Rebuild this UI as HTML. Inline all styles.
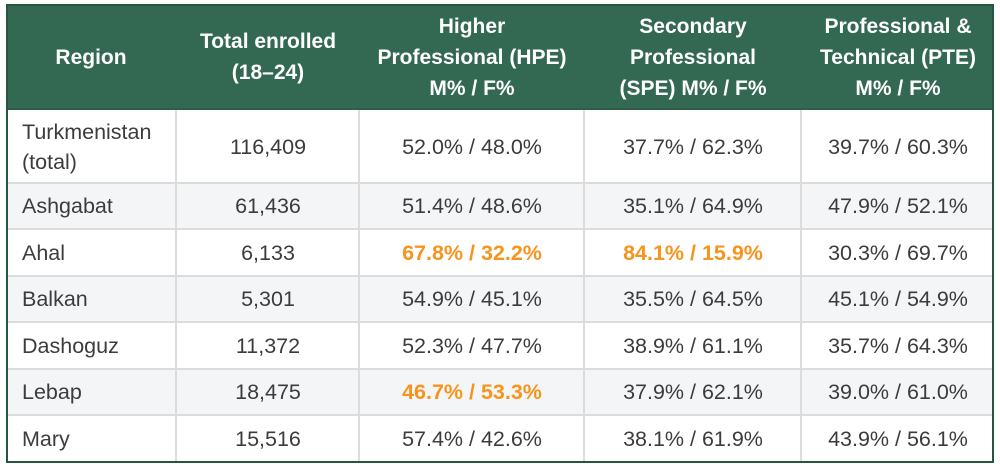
<!DOCTYPE html>
<html>
<head>
<meta charset="utf-8">
<style>
  html,body{margin:0;padding:0;background:#ffffff;}
  body{width:1000px;height:470px;position:relative;overflow:hidden;font-family:"Liberation Sans",Arial,sans-serif;}
  .frame{position:absolute;left:6px;top:4px;width:988px;height:459px;box-sizing:border-box;border:2.5px solid #27563f;background:#fff;}
  .hdr{position:absolute;left:6px;top:4px;width:988px;height:106px;background:#336852;}
  .hline{position:absolute;left:8px;width:984px;height:2px;background:#dcdcdc;}
  .vline{position:absolute;top:110px;width:2px;height:351px;background:#dcdcdc;}
  .gray{position:absolute;left:8px;width:984px;background:#f4f5f7;}
  .c{position:absolute;display:flex;align-items:center;justify-content:center;text-align:center;box-sizing:border-box;}
  .h{color:#ffffff;font-weight:bold;font-size:21px;line-height:31px;}
  .b{color:#3c3c3c;font-size:21.5px;line-height:30px;}
  .l{justify-content:flex-start;text-align:left;padding-left:16px;}
  .o{color:#f7941d;font-weight:bold;}
</style>
</head>
<body>
<div class="frame"></div>
<div class="hdr"></div>
<div class="gray" style="top:184px;height:45px;"></div>
<div class="gray" style="top:277px;height:45px;"></div>
<div class="gray" style="top:370px;height:45px;"></div>

<div class="hline" style="top:182px;"></div>
<div class="hline" style="top:228px;"></div>
<div class="hline" style="top:275px;"></div>
<div class="hline" style="top:321px;"></div>
<div class="hline" style="top:368px;"></div>
<div class="hline" style="top:414px;"></div>

<div class="vline" style="left:175px;"></div>
<div class="vline" style="left:358px;"></div>
<div class="vline" style="left:583px;"></div>
<div class="vline" style="left:800px;"></div>

<div class="hdr" style="background:transparent;height:2px;top:108px;background:#2c5d47;"></div>

<!-- Header -->
<div class="c h" style="left:6px;top:4px;width:170px;height:106px;">Region</div>
<div class="c h" style="left:176px;top:4px;width:184px;height:106px;">Total enrolled<br>(18–24)</div>
<div class="c h" style="left:360px;top:4px;width:224px;height:106px;">Higher<br>Professional (HPE)<br>M% / F%</div>
<div class="c h" style="left:584px;top:4px;width:218px;height:106px;">Secondary<br>Professional<br>(SPE) M% / F%</div>
<div class="c h" style="left:802px;top:4px;width:192px;height:106px;">Professional &amp;<br>Technical (PTE)<br>M% / F%</div>

<!-- Row 1 -->
<div class="c b l" style="left:6px;top:110px;width:170px;height:73px;">Turkmenistan<br>(total)</div>
<div class="c b" style="left:176px;top:110px;width:184px;height:73px;">116,409</div>
<div class="c b" style="left:360px;top:110px;width:224px;height:73px;">52.0% / 48.0%</div>
<div class="c b" style="left:584px;top:110px;width:218px;height:73px;">37.7% / 62.3%</div>
<div class="c b" style="left:802px;top:110px;width:192px;height:73px;">39.7% / 60.3%</div>

<!-- Row 2 -->
<div class="c b l" style="left:6px;top:183px;width:170px;height:46px;">Ashgabat</div>
<div class="c b" style="left:176px;top:183px;width:184px;height:46px;">61,436</div>
<div class="c b" style="left:360px;top:183px;width:224px;height:46px;">51.4% / 48.6%</div>
<div class="c b" style="left:584px;top:183px;width:218px;height:46px;">35.1% / 64.9%</div>
<div class="c b" style="left:802px;top:183px;width:192px;height:46px;">47.9% / 52.1%</div>

<!-- Row 3 -->
<div class="c b l" style="left:6px;top:229px;width:170px;height:47px;">Ahal</div>
<div class="c b" style="left:176px;top:229px;width:184px;height:47px;">6,133</div>
<div class="c b o" style="left:360px;top:229px;width:224px;height:47px;">67.8% / 32.2%</div>
<div class="c b o" style="left:584px;top:229px;width:218px;height:47px;">84.1% / 15.9%</div>
<div class="c b" style="left:802px;top:229px;width:192px;height:47px;">30.3% / 69.7%</div>

<!-- Row 4 -->
<div class="c b l" style="left:6px;top:276px;width:170px;height:46px;">Balkan</div>
<div class="c b" style="left:176px;top:276px;width:184px;height:46px;">5,301</div>
<div class="c b" style="left:360px;top:276px;width:224px;height:46px;">54.9% / 45.1%</div>
<div class="c b" style="left:584px;top:276px;width:218px;height:46px;">35.5% / 64.5%</div>
<div class="c b" style="left:802px;top:276px;width:192px;height:46px;">45.1% / 54.9%</div>

<!-- Row 5 -->
<div class="c b l" style="left:6px;top:322px;width:170px;height:47px;">Dashoguz</div>
<div class="c b" style="left:176px;top:322px;width:184px;height:47px;">11,372</div>
<div class="c b" style="left:360px;top:322px;width:224px;height:47px;">52.3% / 47.7%</div>
<div class="c b" style="left:584px;top:322px;width:218px;height:47px;">38.9% / 61.1%</div>
<div class="c b" style="left:802px;top:322px;width:192px;height:47px;">35.7% / 64.3%</div>

<!-- Row 6 -->
<div class="c b l" style="left:6px;top:369px;width:170px;height:46px;">Lebap</div>
<div class="c b" style="left:176px;top:369px;width:184px;height:46px;">18,475</div>
<div class="c b o" style="left:360px;top:369px;width:224px;height:46px;">46.7% / 53.3%</div>
<div class="c b" style="left:584px;top:369px;width:218px;height:46px;">37.9% / 62.1%</div>
<div class="c b" style="left:802px;top:369px;width:192px;height:46px;">39.0% / 61.0%</div>

<!-- Row 7 -->
<div class="c b l" style="left:6px;top:415px;width:170px;height:47px;">Mary</div>
<div class="c b" style="left:176px;top:415px;width:184px;height:47px;">15,516</div>
<div class="c b" style="left:360px;top:415px;width:224px;height:47px;">57.4% / 42.6%</div>
<div class="c b" style="left:584px;top:415px;width:218px;height:47px;">38.1% / 61.9%</div>
<div class="c b" style="left:802px;top:415px;width:192px;height:47px;">43.9% / 56.1%</div>

<div class="frame" style="background:transparent;"></div>
</body>
</html>
